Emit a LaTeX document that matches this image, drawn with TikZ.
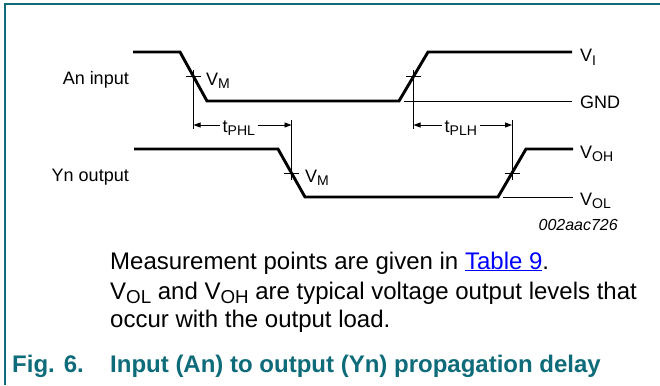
\documentclass[tikz,border=0pt]{standalone}
\usepackage{fontspec}
\setmainfont{Liberation Sans}
\usetikzlibrary{arrows.meta}
\definecolor{nxpteal}{RGB}{14,108,122}
\definecolor{linkblue}{RGB}{0,0,255}
\newcommand\sbs[1]{\raisebox{-0.17em}{\scalebox{0.78}{#1}}}
\begin{document}
\begin{tikzpicture}[x=1pt,y=-1pt,
  wave/.style={line width=2.9pt, line join=miter},
  thinline/.style={line width=0.9pt},
  dim/.style={line width=0.9pt,-{Triangle[length=7pt,width=5pt]}},
  lbl/.style={font=\fontsize{18}{20}\selectfont, inner sep=0pt},
  tlbl/.style={font=\fontsize{18}{20}\selectfont, inner ysep=0pt, inner xsep=2.5pt},
  txt/.style={font=\fontsize{24}{27}\selectfont, inner sep=0pt},
  captxt/.style={font=\fontsize{24}{27}\selectfont\bfseries, text=nxpteal, inner sep=0pt},
]
\useasboundingbox (0,0) rectangle (660,385);
\draw[nxpteal, line width=1.5pt] (5,385) -- (5,4) -- (660,4);

% waveforms
\draw[wave] (133,52) -- (180,52) -- (207,101) -- (399,101) -- (428,52) -- (572,52);
\draw[thinline] (404,101) -- (572,101);
\draw[wave] (134,149) -- (278,149) -- (305,197) -- (498,197) -- (526,149) -- (573,149);
\draw[thinline] (503,197) -- (573,197);

% crossing points
\coordinate (cA1) at (193.5,76.5);
\coordinate (cA2) at (413.5,76.5);
\coordinate (cY1) at (291.5,173);
\coordinate (cY2) at (512,173);
\foreach \c in {cA1,cA2,cY1,cY2}
  \draw[thinline] ([xshift=-7.5pt]\c) -- ([xshift=7.5pt]\c);
\draw[thinline] (193.5,70) -- (193.5,129);
\draw[thinline] (413.5,70) -- (413.5,129);
\draw[thinline] (291.5,120) -- (291.5,180);
\draw[thinline] (512,120) -- (512,180);

% dimension arrows
\coordinate (d1) at (193.5,125);
\coordinate (d2) at (291.5,125);
\coordinate (d3) at (413.5,125);
\coordinate (d4) at (512,125);
\node[tlbl, anchor=base west] (tphl) at (220,132) {t\sbs{PHL}};
\node[tlbl, anchor=base west] (tplh) at (442,132) {t\sbs{PLH}};
\draw[dim] (tphl.west |- d1) -- (d1);
\draw[dim] (tphl.east |- d2) -- (d2);
\draw[dim] (tplh.west |- d3) -- (d3);
\draw[dim] (tplh.east |- d4) -- (d4);

% labels
\node[lbl, anchor=base east] (ain) at (129,84.5) {An input};
\node[lbl, anchor=base east] (yout) at (129,181) {Yn output};
\node[lbl, anchor=base west] (vm1) at (206,85) {V\sbs{M}};
\node[lbl, anchor=base west] (vm2) at (305,182) {V\sbs{M}};
\node[lbl, anchor=base west] (vi) at (580,62) {V\sbs{I}};
\node[lbl, anchor=base west] (gnd) at (580,108) {GND};
\node[lbl, anchor=base west] (voh) at (580,158) {V\sbs{OH}};
\node[lbl, anchor=base west] (vol) at (580,205) {V\sbs{OL}};
\node[font=\fontsize{16}{18}\selectfont\itshape, inner sep=0pt, anchor=base east] (code) at (618,230) {002aac726};

% notes
\node[txt, anchor=base west] (m1) at (110,269) {Measurement points are given in {\color{linkblue}\underline{Table 9}}.};
\node[txt, anchor=base west] (m2) at (110,299) {V\sbs{OL} and V\sbs{OH} are typical voltage output levels that};
\node[txt, anchor=base west] (m3) at (110,327) {occur with the output load.};

% caption
\node[captxt, anchor=base west] (fig) at (12,372) {Fig. 6.};
\node[captxt, anchor=base west] (cap) at (110,372) {Input (An) to output (Yn) propagation delay};
\end{tikzpicture}
\end{document}
